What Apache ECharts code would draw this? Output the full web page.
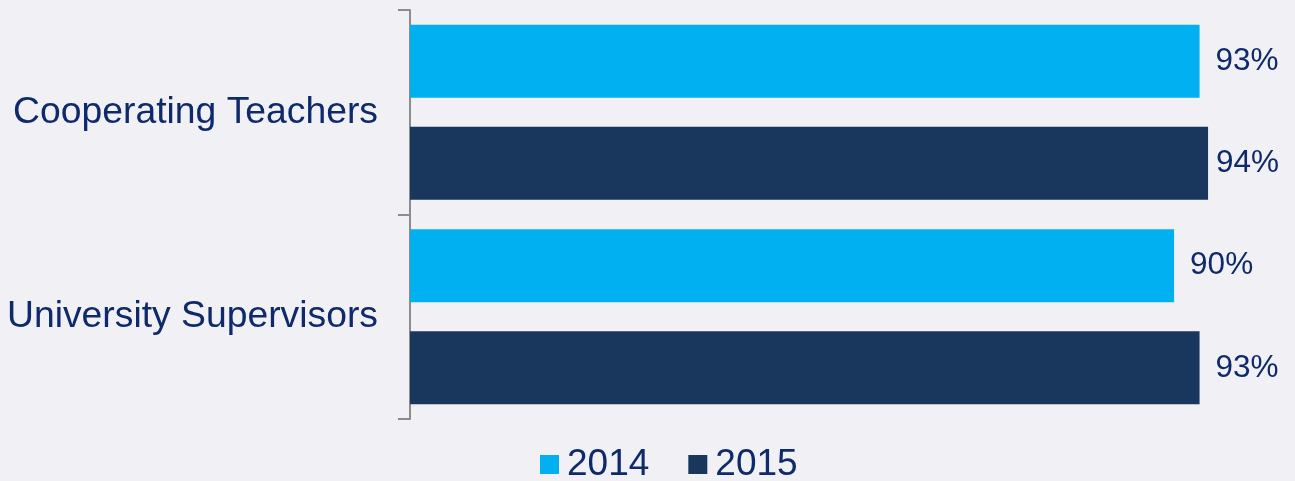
<!DOCTYPE html>
<html>
<head>
<meta charset="utf-8">
<script src="https://cdn.jsdelivr.net/npm/echarts@6/dist/echarts.min.js"></script>
<style>
html,body{margin:0;padding:0;background:#F0F0F5;}
#chart{width:1295px;height:481px;}
</style>
</head>
<body>
<div id="chart"></div>
<script>
var categories = ['Cooperating Teachers', 'University Supervisors'];
var seriesNames = ['2014', '2015'];
var values2014 = [93, 90];
var values2015 = [94, 93];

var textColor = '#0E2A6B';
var font = 'Liberation Sans, Arial, sans-serif';

// The widest label sits closer to its bar end (as in the reference, where it is pulled in at the plot edge)
function toItems(vals) {
  var maxV = Math.max.apply(null, values2014.concat(values2015));
  return vals.map(function (v) {
    return v === maxV ? { value: v, label: { distance: 8 } } : v;
  });
}

var labelStyle = { show: true, position: 'right', distance: 16, formatter: '{c}%', fontSize: 31.5, color: textColor, fontFamily: font };

var chart = echarts.init(document.getElementById('chart'));
chart.setOption({
  backgroundColor: '#F0F0F5',
  animation: false,
  grid: { left: 410, top: 10, bottom: 62, width: 849, containLabel: false },
  legend: {
    data: seriesNames,
    top: 441,
    left: 535,
    itemWidth: 19,
    itemHeight: 19,
    itemGap: 39,
    icon: 'rect',
    textStyle: { fontSize: 37, color: textColor, fontFamily: font, padding: [0, 0, 0, 3] }
  },
  xAxis: {
    type: 'value',
    min: 0,
    max: 100,
    show: false
  },
  yAxis: {
    type: 'category',
    data: categories,
    inverse: true,
    axisLine: { show: true, lineStyle: { color: '#8C8C8C', width: 2 } },
    axisTick: { show: true, length: 12, lineStyle: { color: '#8C8C8C', width: 2 } },
    axisLabel: { fontSize: 37.3, color: textColor, fontFamily: font, margin: 32 }
  },
  series: [
    {
      name: seriesNames[0],
      type: 'bar',
      data: toItems(values2014),
      barWidth: 73,
      barGap: '40%',
      itemStyle: { color: '#00B0F0' },
      label: labelStyle
    },
    {
      name: seriesNames[1],
      type: 'bar',
      data: toItems(values2015),
      barWidth: 73,
      barGap: '40%',
      itemStyle: { color: '#19365D' },
      label: labelStyle
    }
  ]
});
</script>
</body>
</html>
